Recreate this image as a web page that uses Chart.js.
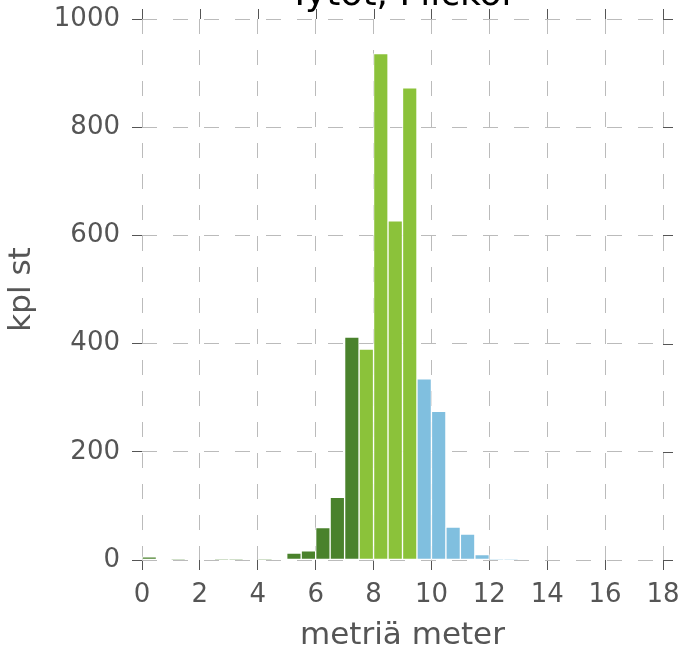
<!DOCTYPE html>
<html>
<head>
<meta charset="utf-8">
<script src="https://cdn.jsdelivr.net/npm/chart.js@4"></script>
<style>
  body { margin: 0; background: #fff; }
</style>
</head>
<body>
<canvas id="chart" width="682" height="650"></canvas>
<script>
// histogram, bins of 0.5 m
var binStarts = [0, 0.5, 1, 1.5, 2, 2.5, 3, 3.5, 4, 4.5, 5, 5.5, 6, 6.5, 7, 7.5, 8, 8.5, 9, 9.5, 10, 10.5, 11, 11.5, 12, 12.5];
var counts    = [6, 0, 1, 0, 0, 1, 1, 0, 1, 0, 13, 17, 60, 116, 412, 390, 936, 627, 873, 335, 275, 61, 48, 10, 1, 1];
var groups    = ['low', 'low', 'low', 'low', 'low', 'low', 'low', 'low', 'low', 'low', 'low', 'low', 'low', 'low', 'low',
                 'mid', 'mid', 'mid', 'mid', 'high', 'high', 'high', 'high', 'high', 'high', 'high'];
var xTicks = [0, 2, 4, 6, 8, 10, 12, 14, 16, 18];
var yTicks = [0, 200, 400, 600, 800, 1000];

var title = 'Tytöt, Flickor';
var xTitle = 'metriä meter';
var yTitle = 'kpl st';

var groupColors = { low: '#4a822c', mid: '#8bc23a', high: '#80bfdf' };
var textColor = '#555555';
var fontFamily = '"DejaVu Sans", sans-serif';

var points = binStarts.map(function (b, i) {
    return { x: b + 0.25, y: counts[i] };
});

// outward tick marks on top and right edges + cut-off title
var framePlugin = {
    id: 'frame',
    afterDraw: function (chart) {
        var ctx = chart.ctx;
        var area = chart.chartArea;
        var xs = chart.scales.x;
        var ys = chart.scales.y;
        ctx.save();
        ctx.strokeStyle = textColor;
        ctx.lineWidth = 1;
        ctx.beginPath();
        xTicks.forEach(function (v) {
            var px = Math.round(xs.getPixelForValue(v)) + 0.5;
            ctx.moveTo(px, area.top);
            ctx.lineTo(px, area.top - 10);
        });
        yTicks.forEach(function (v) {
            var py = Math.round(ys.getPixelForValue(v)) + 0.5;
            ctx.moveTo(area.right, py);
            ctx.lineTo(area.right + 10, py);
        });
        ctx.stroke();

        ctx.fillStyle = '#000';
        ctx.font = '36px ' + fontFamily;
        ctx.textAlign = 'center';
        ctx.textBaseline = 'alphabetic';
        ctx.fillText(title, (area.left + area.right) / 2, 5);
        ctx.restore();
    }
};

function gridOpts() {
    return {
        color: '#bbbbbb',
        tickColor: textColor,
        tickLength: 10,
        offset: false
    };
}

new Chart(document.getElementById('chart'), {
    type: 'bar',
    data: {
        datasets: [{
            data: points,
            backgroundColor: groups.map(function (g) { return groupColors[g]; }),
            borderColor: '#ffffff',
            borderWidth: 1,
            borderSkipped: false,
            barPercentage: 1,
            categoryPercentage: 1
        }]
    },
    options: {
        responsive: false,
        animation: false,
        layout: { padding: { top: 19, right: 19, bottom: 0, left: 0 } },
        plugins: {
            legend: { display: false },
            tooltip: { enabled: false }
        },
        scales: {
            x: {
                type: 'linear',
                min: 0,
                max: 18,
                offset: false,
                afterFit: function (s) {
                    s.height = 90;
                    s.paddingLeft = 0;
                    s.paddingRight = 0;
                },
                afterBuildTicks: function (s) {
                    s.ticks = xTicks.map(function (v) { return { value: v }; });
                },
                border: { display: false, dash: [15, 16] },
                grid: gridOpts(),
                ticks: {
                    color: textColor,
                    padding: 10,
                    maxRotation: 0,
                    font: { family: fontFamily, size: 26 },
                    callback: function (v) { return String(v); }
                },
                title: {
                    display: true,
                    text: xTitle,
                    color: textColor,
                    padding: { top: 0, bottom: 0 },
                    font: { family: fontFamily, size: 31, lineHeight: 0.9 }
                }
            },
            y: {
                min: 0,
                max: 1000,
                afterFit: function (s) {
                    s.width = 142;
                    s.paddingTop = 0;
                    s.paddingBottom = 0;
                },
                afterBuildTicks: function (s) {
                    s.ticks = yTicks.map(function (v) { return { value: v }; });
                },
                border: { display: false, dash: [15, 16] },
                grid: gridOpts(),
                ticks: {
                    color: textColor,
                    padding: 12,
                    font: { family: fontFamily, size: 26 },
                    callback: function (v) { return String(v); }
                },
                title: {
                    display: true,
                    text: yTitle,
                    color: textColor,
                    padding: { top: 3, bottom: 0 },
                    font: { family: fontFamily, size: 31 }
                }
            }
        }
    },
    plugins: [framePlugin]
});
</script>
</body>
</html>
